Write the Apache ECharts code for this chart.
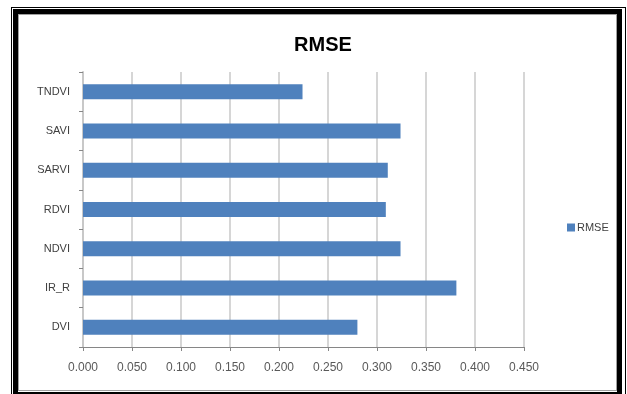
<!DOCTYPE html>
<html lang="en" style="height: 100%">
<head>
    <meta charset="UTF-8">
    <title>RMSE</title>
    <script src="https://cdn.jsdelivr.net/npm/echarts@6/dist/echarts.min.js"></script>
    <style>
        .frame { position: absolute; box-sizing: border-box; pointer-events: none; }
    </style>
</head>
<body style="height: 100%; margin: 0; background: #fff">
    <div id="main" style="position: absolute; left: 0; top: 0; width: 627px; height: 394px"></div>
    <!-- double frame around the chart -->
    <div class="frame" style="left: 11px; top: 7px; width: 615px; height: 400px; border: 1.5px solid #000"></div>
    <div class="frame" style="left: 13px; top: 9px; width: 609px; height: 388px; border: 5px solid #000"></div>
    <div class="frame" style="left: 18px; top: 14px; width: 599px; height: 377px; border: 1px solid #a0a0a0"></div>
    <script>
        // categories from bottom to top
        var categories = ['DVI', 'IR_R', 'NDVI', 'RDVI', 'SARVI', 'SAVI', 'TNDVI'];
        var rmse = [0.280, 0.381, 0.324, 0.309, 0.311, 0.324, 0.224];
        var seriesName = 'RMSE';

        var myChart = echarts.init(document.getElementById('main'));

        var option = {
            animation: false,
            title: {
                text: 'RMSE',
                left: 318,
                textAlign: 'center',
                top: 30,
                textStyle: {
                    fontFamily: '"Liberation Sans", sans-serif',
                    fontSize: 20,
                    fontWeight: 'bold',
                    color: '#000'
                }
            },
            legend: {
                data: [seriesName],
                left: 562,
                top: 217,
                itemWidth: 8,
                itemHeight: 8,
                icon: 'rect',
                textStyle: {
                    fontFamily: '"Liberation Sans", sans-serif',
                    fontSize: 11,
                    color: '#404040',
                    padding: [0, 0, 0, -3]
                }
            },
            grid: {
                left: 83,
                right: 103,
                top: 72,
                bottom: 47
            },
            xAxis: {
                type: 'value',
                min: 0,
                max: 0.45,
                interval: 0.05,
                axisLine: { show: true, lineStyle: { color: '#868686', width: 1 } },
                axisTick: { show: true, length: 4, lineStyle: { color: '#868686' } },
                splitLine: { show: true, lineStyle: { color: '#c8c8c8', width: 1.5 } },
                axisLabel: {
                    margin: 15,
                    fontFamily: '"Liberation Sans", sans-serif',
                    fontSize: 12,
                    color: '#595959',
                    formatter: function (v) { return v.toFixed(3); }
                }
            },
            yAxis: {
                type: 'category',
                data: categories,
                axisLine: { show: true, lineStyle: { color: '#c8c8c8', width: 2 } },
                axisTick: { show: true, length: 4, lineStyle: { color: '#868686' } },
                axisLabel: {
                    margin: 13,
                    fontFamily: '"Liberation Sans", sans-serif',
                    fontSize: 11,
                    color: '#404040'
                }
            },
            series: [
                {
                    name: seriesName,
                    type: 'bar',
                    data: rmse,
                    barWidth: 15,
                    itemStyle: { color: '#4F81BD' }
                }
            ]
        };

        myChart.setOption(option);
        window.addEventListener('resize', myChart.resize);
    </script>
</body>
</html>
